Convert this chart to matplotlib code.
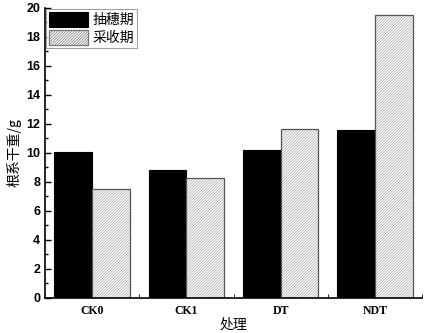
import numpy as np
import matplotlib
matplotlib.use('Agg')
import matplotlib.pyplot as plt
from matplotlib.ticker import MultipleLocator

# 数据
categories = ['CK0', 'CK1', 'DT', 'NDT']
heading = [10.05, 8.8, 10.23, 11.6]    # 抽穗期
harvest = [7.52, 8.25, 11.65, 19.55]   # 采收期

cjk = ['Noto Sans CJK SC', 'DejaVu Sans']
plt.rcParams['hatch.linewidth'] = 0.5

fig = plt.figure(figsize=(4.25, 3.33), dpi=100)
ax = fig.add_axes([0.106, 0.106, 0.887, 0.870])

x = np.arange(len(categories))
w = 0.4
HATCH = '////////////'
b1 = ax.bar(x - w / 2, heading, width=w, color='black', edgecolor='black',
            linewidth=0.8, label='抽穗期')
# 斜线填充（浅灰）+ 深灰边框
ax.bar(x + w / 2, harvest, width=w, color='white', edgecolor='#a8a8a8',
       hatch=HATCH, linewidth=0)
ax.bar(x + w / 2, harvest, width=w, color='none', edgecolor='#555555',
       linewidth=0.9)

ax.set_xlim(-0.5, 3.5)
ax.set_ylim(0, 20)
ax.set_xticks(x)
ax.set_xticklabels(categories, fontfamily='Liberation Serif',
                   fontweight='bold', fontsize=8.5)
ax.set_xticks(x + 0.5, minor=True)
ax.yaxis.set_major_locator(MultipleLocator(2))
ax.yaxis.set_minor_locator(MultipleLocator(1))
for lab in ax.get_yticklabels():
    lab.set_fontfamily('Liberation Sans')
    lab.set_fontweight('bold')
    lab.set_fontsize(9)

ax.tick_params(axis='x', which='major', length=0, pad=5)
ax.tick_params(axis='x', which='minor', direction='in', length=3)
ax.tick_params(axis='y', which='major', direction='in', length=4, width=1)
ax.tick_params(axis='y', which='minor', direction='in', length=2.5, width=1)

for s in ['top', 'right']:
    ax.spines[s].set_visible(False)
for s in ['left', 'bottom']:
    ax.spines[s].set_linewidth(1.2)

ax.set_ylabel('根系干重/g', family=cjk, fontsize=10, labelpad=3)
ax.set_xlabel('处理', family=cjk, fontsize=10, labelpad=1)

# 图例
hatch_patch = plt.Rectangle((0, 0), 1, 1, facecolor='white', edgecolor='#777777',
                            hatch=HATCH, linewidth=0.9)
leg = ax.legend([b1, hatch_patch], ['抽穗期', '采收期'], loc='upper left',
                prop={'family': cjk, 'size': 10}, frameon=True, fancybox=False,
                edgecolor='#888888', handlelength=2.8, handleheight=1.3,
                borderaxespad=0.1, borderpad=0.2, labelspacing=0.2,
                handletextpad=0.3)
leg.get_frame().set_linewidth(0.8)

fig.savefig('out.png', dpi=100)
